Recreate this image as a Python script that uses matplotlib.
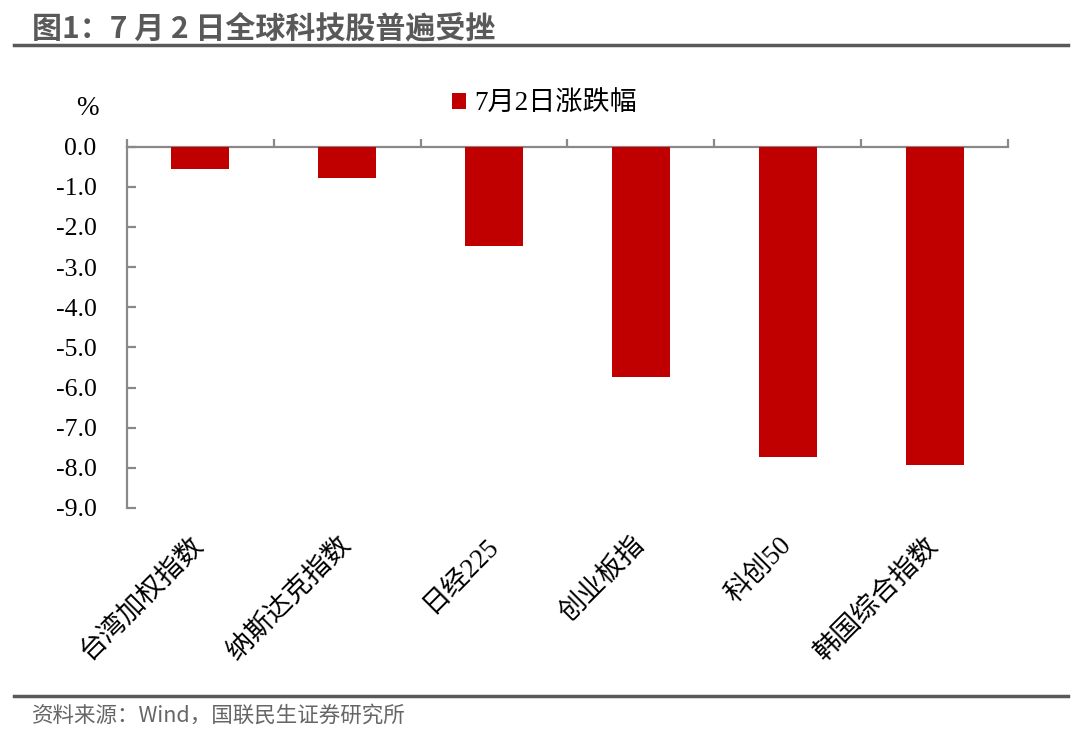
import matplotlib
matplotlib.use("Agg")
import matplotlib.pyplot as plt
import numpy as np

plt.rcParams['font.family'] = ['Liberation Serif', 'Noto Sans CJK SC', 'DejaVu Sans']

categories = ['台湾加权指数', '纳斯达克指数', '日经225', '创业板指', '科创50', '韩国综合指数']
changes = [-0.57, -0.79, -2.47, -5.73, -7.74, -7.92]
y_ticks = [0, -1, -2, -3, -4, -5, -6, -7, -8, -9]

title = '图1：7 月 2 日全球科技股普遍受挫'
source = '资料来源：Wind，国联民生证券研究所'
series_name = '7月2日涨跌幅'

red = '#C00000'
axis_grey = '#898989'
text_grey = '#595959'

fig = plt.figure(figsize=(10.8, 7.38), dpi=100)
ax = fig.add_axes([127 / 1080, 1 - 508 / 738, (1008 - 127) / 1080, (508 - 146.5) / 738])

x = np.arange(len(categories))
ax.bar(x, changes, width=0.395, color=red, label=series_name, zorder=3)

ax.set_xlim(-0.5, len(categories) - 0.5)
ax.set_ylim(-9, 0)
ax.set_yticks(y_ticks)
ax.set_yticklabels([f'{v:.1f}' for v in y_ticks], fontsize=18.5)

for s in ['bottom', 'right']:
    ax.spines[s].set_visible(False)
for s in ['top', 'left']:
    ax.spines[s].set_color(axis_grey)
    ax.spines[s].set_linewidth(1.6)

ax.tick_params(axis='y', direction='in', length=6.5, width=1.6, color=axis_grey, pad=22)

# category labels below, boundary ticks on the zero line
ax.set_xticks(x)
ax.set_xticklabels(categories, rotation=45, ha='right', va='center',
                   rotation_mode='anchor', fontsize=19.5)
ax.tick_params(axis='x', which='major', length=0, pad=24)
ax.set_xticks(np.arange(-0.5, len(categories), 1.0), minor=True)
ax.tick_params(axis='x', which='minor', bottom=False, top=True, direction='out',
               length=6, width=1.6, color=axis_grey)

ax.text(-0.032, 1.104, '%', transform=ax.transAxes, ha='right', va='center', fontsize=19.5)

ax.legend(loc='center', bbox_to_anchor=(0.474, 1.117), frameon=False, fontsize=19.5,
          handlelength=0.5, handleheight=0.5, handletextpad=0.3)

# header and footer
fig.text(32 / 1080, 1 - 28 / 738, title, fontsize=21.6, fontweight='bold', color=text_grey,
         family=['Noto Sans CJK SC', 'DejaVu Sans'], ha='left', va='center')
fig.add_artist(plt.Line2D([14 / 1080, 1068 / 1080], [1 - 44.5 / 738] * 2, color=text_grey, lw=2.5))
fig.add_artist(plt.Line2D([14 / 1080, 1068 / 1080], [1 - 695.5 / 738] * 2, color=text_grey, lw=2.5))
fig.text(32 / 1080, 1 - 716 / 738, source, fontsize=15.5, color='#666666',
         family=['Noto Sans CJK SC', 'DejaVu Sans'], ha='left', va='center')

fig.savefig('out.png', dpi=100)
